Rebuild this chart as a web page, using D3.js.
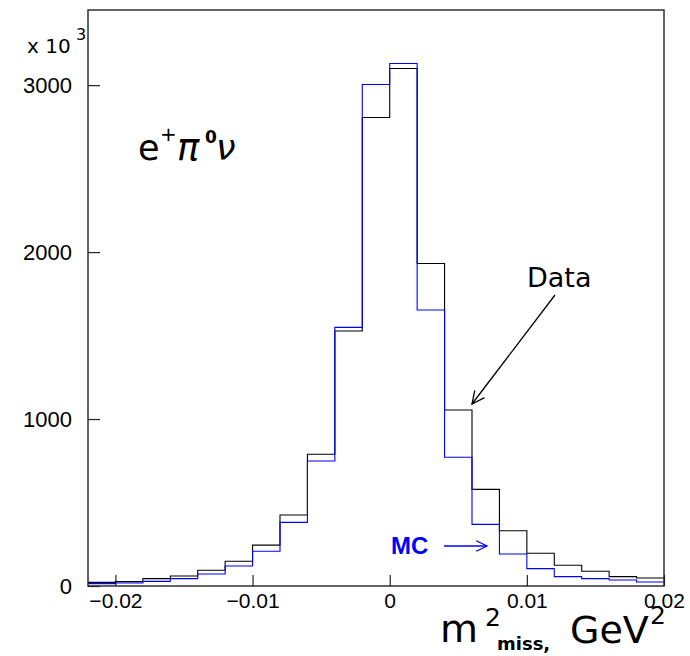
<html>
<head>
<meta charset="utf-8">
<script src="https://cdn.jsdelivr.net/npm/d3@7"></script>
<style>
body { margin: 0; background: #fff; }
svg { font-family: "DejaVu Sans", sans-serif; }
.axis path { display: none; }
.axis line { stroke: #222; stroke-width: 1.2px; }
.axis text { fill: #000; }
.yaxis text { font-size: 22px; }
.xaxis text { font-size: 21px; }
</style>
</head>
<body>
<svg width="690" height="656"></svg>
<script>
// bin lower edges, m^2 miss (GeV^2), width 0.002
var binLow = [-0.022, -0.020, -0.018, -0.016, -0.014, -0.012, -0.010, -0.008, -0.006, -0.004, -0.002,
              0.000, 0.002, 0.004, 0.006, 0.008, 0.010, 0.012, 0.014, 0.016, 0.018];
var binWidth = 0.002;
// counts (x 10^3)
var dataCounts = [22, 26, 44, 60, 94, 148, 245, 425, 789, 1527, 2806,
                  3100, 1932, 1054, 579, 331, 196, 124, 88, 56, 48];
var mcCounts = [14, 18, 28, 44, 72, 120, 208, 381, 749, 1549, 3004,
                3130, 1653, 771, 369, 192, 104, 56, 44, 36, 24];
var xTicks = [-0.02, -0.01, 0, 0.01, 0.02];
var yTicks = [0, 1000, 2000, 3000];

var svg = d3.select("svg");
var m = {left: 88, right: 664, top: 10, bottom: 586};

var x = d3.scaleLinear().domain([-0.022, 0.02]).range([m.left, m.right]);
var y = d3.scaleLinear().domain([0, 3450]).range([m.bottom, m.top]);

// y axis, ticks pointing inward
svg.append("g")
    .attr("class", "axis yaxis")
    .attr("transform", "translate(" + m.left + ",0)")
    .call(d3.axisLeft(y).tickValues(yTicks).tickSizeInner(-12).tickSizeOuter(0).tickPadding(16)
        .tickFormat(d3.format("d")));

// x axis
svg.append("g")
    .attr("class", "axis xaxis")
    .attr("transform", "translate(0," + m.bottom + ")")
    .call(d3.axisBottom(x).tickValues(xTicks).tickSizeInner(-11).tickSizeOuter(0).tickPadding(7)
        .tickFormat(function(d) { return d === 0 ? "0" : d3.format(".2f")(d); }));

// step outline for a histogram
function steps(counts) {
    var pts = [];
    counts.forEach(function(c, i) {
        pts.push([x(binLow[i]), y(c)]);
        pts.push([x(binLow[i] + binWidth), y(c)]);
    });
    return d3.line()(pts);
}

svg.append("path")
    .attr("d", steps(dataCounts))
    .attr("fill", "none")
    .attr("stroke", "#000")
    .attr("stroke-width", 1.1);

svg.append("path")
    .attr("d", steps(mcCounts))
    .attr("fill", "none")
    .attr("stroke", "#0000ff")
    .attr("stroke-width", 1.1);

// frame
svg.append("rect")
    .attr("x", m.left).attr("y", m.top)
    .attr("width", m.right - m.left).attr("height", m.bottom - m.top)
    .attr("fill", "none")
    .attr("stroke", "#222")
    .attr("stroke-width", 1.4);

// x 10^3
svg.append("text").attr("x", 27).attr("y", 53).attr("font-size", 20).text("x 10");
svg.append("text").attr("x", 76).attr("y", 40).attr("font-size", 16).text("3");

// channel label e+ pi0 nu
var ch = svg.append("g");
ch.append("text").attr("x", 138).attr("y", 160).attr("font-size", 35).text("e");
ch.append("text").attr("x", 160).attr("y", 141).attr("font-size", 20).text("+");
ch.append("text").attr("x", 177).attr("y", 160).attr("font-size", 37).attr("font-style", "italic").text("π");
ch.append("text").attr("x", 205).attr("y", 143).attr("font-size", 17).attr("font-weight", "bold").text("0");
ch.append("text").attr("x", 216).attr("y", 160).attr("font-size", 35).attr("font-style", "italic").text("ν");

// arrow helper: open V head at (x2,y2)
function arrow(x1, y1, x2, y2, len, color) {
    var a = Math.atan2(y2 - y1, x2 - x1), s = 0.45;
    var g = svg.append("g").attr("stroke", color).attr("stroke-width", 1.3).attr("fill", "none");
    g.append("line").attr("x1", x1).attr("y1", y1).attr("x2", x2).attr("y2", y2);
    g.append("path").attr("d", d3.line()([
        [x2 - len * Math.cos(a - s), y2 - len * Math.sin(a - s)],
        [x2, y2],
        [x2 - len * Math.cos(a + s), y2 - len * Math.sin(a + s)]
    ]));
}

svg.append("text").attr("x", 527).attr("y", 287).attr("font-size", 27).text("Data");
arrow(555, 295, 472, 404, 14, "#000");

svg.append("text").attr("x", 391).attr("y", 554).attr("font-size", 24)
    .attr("font-family", "'Liberation Sans', Arial, sans-serif")
    .attr("font-weight", "bold").attr("fill", "#0000ff").text("MC");
arrow(444, 546, 487, 546, 12, "#0000ff");

// x axis title
var xt = svg.append("g");
xt.append("text").attr("x", 440).attr("y", 642).attr("font-size", 39).text("m");
xt.append("text").attr("x", 485).attr("y", 626).attr("font-size", 25).text("2");
xt.append("text").attr("x", 497).attr("y", 650).attr("font-size", 18).attr("font-weight", "bold").text("miss,");
xt.append("text").attr("x", 570).attr("y", 643).attr("font-size", 38).text("GeV");
xt.append("text").attr("x", 650).attr("y", 624).attr("font-size", 25).text("2");
</script>
</body>
</html>
